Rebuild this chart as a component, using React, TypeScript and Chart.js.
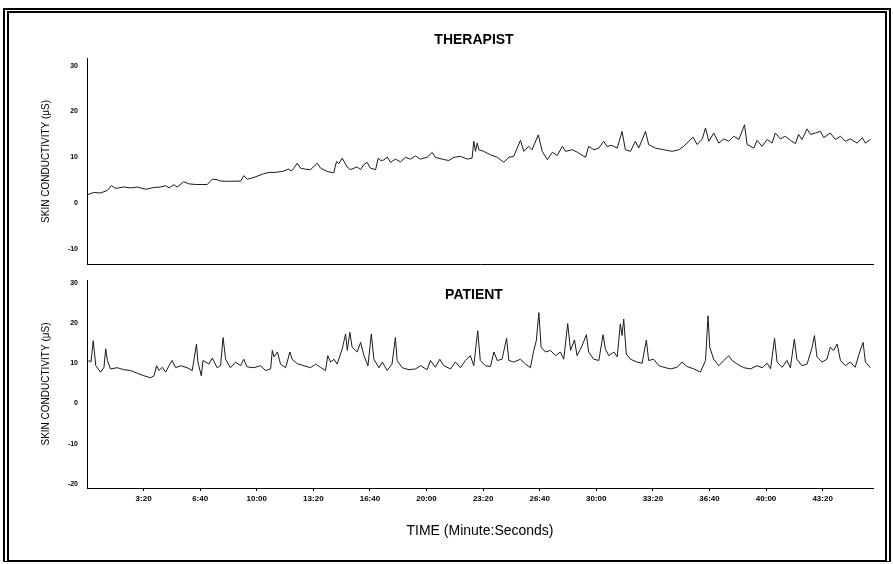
import React, { useEffect, useRef } from "react";
import { Chart, registerables } from "chart.js";

Chart.register(...registerables);

// ---------- DATA ----------
const xTickSeconds = [200, 400, 600, 800, 1000, 1200, 1400, 1600, 1800, 2000, 2200, 2400, 2600];
const therapistYTicks = [-10, 0, 10, 20, 30];
const patientYTicks = [-20, -10, 0, 10, 20, 30];

const therapistTimes = [
  0, 24, 48, 72, 86, 101, 130, 154, 178, 207, 236, 260, 278, 290, 307, 319, 342, 360, 384, 425,
  443, 460, 472, 496, 543, 554, 566, 590, 620, 643, 666, 690, 713, 722, 731, 743, 755, 772, 790, 814,
  826, 849, 872, 882, 890, 902, 919, 931, 955, 967, 978, 990, 1002, 1020, 1029, 1038, 1049, 1061, 1073, 1090,
  1108, 1126, 1143, 1161, 1178, 1202, 1220, 1231, 1261, 1279, 1297, 1320, 1344, 1361, 1367, 1373, 1379, 1385, 1402, 1426,
  1450, 1473, 1491, 1508, 1532, 1544, 1561, 1573, 1595, 1609, 1627, 1645, 1662, 1680, 1691, 1715, 1733, 1762, 1773, 1791,
  1809, 1826, 1838, 1856, 1874, 1891, 1903, 1921, 1938, 1950, 1974, 1985, 2009, 2038, 2068, 2092, 2109, 2127, 2142, 2156,
  2174, 2186, 2198, 2215, 2233, 2251, 2268, 2286, 2304, 2324, 2333, 2357, 2368, 2386, 2404, 2421, 2433, 2451, 2468, 2486,
  2504, 2515, 2527, 2545, 2557, 2575, 2592, 2604, 2627, 2645, 2663, 2680, 2698, 2722, 2740, 2751, 2769,
];
const therapistValues = [
  1.8, 2.3, 2.2, 2.75, 3.8, 3.2, 3.5, 3.3, 3.5, 3.0, 3.4, 3.5, 3.8, 3.3, 4.0, 3.5, 4.65, 4.2, 4.05, 4.05,
  5.2, 5.1, 4.8, 4.75, 4.8, 6.0, 5.2, 5.6, 6.3, 6.7, 6.7, 6.9, 7.4, 7.0, 7.6, 8.7, 7.6, 7.4, 7.3, 8.7,
  7.6, 6.9, 6.6, 9.1, 8.6, 9.8, 7.9, 7.3, 7.9, 7.3, 8.4, 8.9, 7.6, 7.3, 9.8, 9.3, 9.4, 10.05, 8.9, 9.6,
  9.0, 10.0, 9.6, 10.3, 9.6, 10.0, 11.05, 10.0, 9.5, 9.3, 10.0, 10.2, 9.6, 9.8, 13.5, 11.3, 13.1, 11.65, 11.3, 10.55,
  10.0, 8.9, 10.0, 10.2, 13.7, 11.3, 12.4, 11.65, 14.9, 11.3, 9.5, 11.1, 10.4, 12.4, 11.3, 11.65, 11.1, 10.0, 12.4, 11.65,
  12.0, 13.5, 12.4, 12.6, 12.0, 15.65, 11.65, 11.3, 13.5, 12.0, 15.65, 12.8, 12.0, 11.65, 11.3, 11.65, 12.4, 13.5, 14.4, 12.8,
  13.9, 16.4, 13.5, 15.3, 13.1, 14.0, 13.5, 14.6, 13.9, 17.1, 12.8, 12.0, 13.7, 12.4, 13.9, 13.1, 15.3, 14.0, 14.6, 13.7,
  13.0, 15.0, 13.9, 16.2, 15.0, 15.3, 15.65, 14.3, 15.3, 13.9, 14.6, 13.5, 14.0, 13.1, 14.3, 13.1, 13.9,
];

const patientTimes = [
  0, 7, 14, 22, 31, 48, 60, 66, 72, 83, 107, 130, 154, 178, 201, 225, 237, 246, 254, 266,
  278, 293, 301, 313, 331, 354, 372, 387, 392, 404, 410, 431, 443, 460, 472, 481, 490, 507, 525, 543,
  554, 566, 590, 613, 631, 649, 655, 661, 673, 684, 702, 717, 725, 743, 767, 790, 808, 825, 843, 851,
  861, 873, 884, 902, 914, 920, 929, 937, 955, 967, 979, 993, 1005, 1014, 1032, 1044, 1061, 1078, 1090, 1096,
  1114, 1138, 1161, 1179, 1202, 1214, 1231, 1247, 1261, 1285, 1302, 1320, 1337, 1355, 1367, 1381, 1390, 1408, 1426, 1438,
  1450, 1467, 1483, 1491, 1508, 1532, 1550, 1567, 1579, 1588, 1597, 1605, 1620, 1638, 1656, 1673, 1685, 1699, 1709, 1723,
  1732, 1750, 1765, 1773, 1791, 1809, 1824, 1832, 1844, 1862, 1874, 1885, 1891, 1897, 1906, 1921, 1944, 1962, 1977, 1985,
  2003, 2021, 2039, 2062, 2086, 2103, 2121, 2145, 2168, 2186, 2195, 2201, 2215, 2233, 2251, 2268, 2280, 2298, 2321, 2345,
  2368, 2386, 2404, 2416, 2430, 2439, 2457, 2474, 2486, 2500, 2509, 2527, 2545, 2563, 2571, 2580, 2598, 2615, 2627, 2639,
  2651, 2663, 2680, 2698, 2715, 2731, 2743, 2751, 2769,
];
const patientValues = [
  10.2, 10.7, 10.3, 15.6, 9.4, 7.8, 9.0, 13.6, 10.7, 8.6, 8.9, 8.4, 8.2, 7.5, 6.9, 6.4, 6.9, 9.4, 8.2, 9.0,
  7.8, 9.8, 10.7, 8.9, 9.4, 8.9, 8.2, 14.8, 10.3, 6.9, 10.7, 9.8, 11.3, 8.9, 9.4, 16.4, 11.0, 8.9, 10.3, 9.4,
  11.0, 9.1, 8.9, 9.4, 8.2, 8.6, 13.2, 11.6, 12.8, 9.8, 8.9, 12.8, 11.0, 9.9, 9.4, 8.9, 9.8, 9.0, 8.2, 11.9,
  10.3, 11.0, 9.8, 13.6, 17.3, 13.2, 17.7, 14.0, 12.8, 15.2, 11.9, 9.4, 17.3, 11.0, 8.9, 10.3, 8.2, 9.8, 16.4, 10.7,
  8.9, 8.4, 8.6, 9.4, 8.4, 10.7, 9.0, 11.0, 9.4, 8.6, 10.3, 8.9, 10.7, 11.9, 9.4, 18.1, 10.7, 9.4, 9.2, 12.8,
  10.7, 11.0, 16.2, 10.7, 10.3, 11.0, 9.8, 8.9, 13.2, 15.6, 22.6, 14.0, 12.8, 13.2, 11.9, 12.8, 11.0, 19.9, 13.2, 15.8,
  11.9, 14.4, 17.1, 12.8, 11.0, 10.7, 17.1, 13.6, 11.9, 12.8, 11.6, 19.8, 16.9, 21.0, 12.3, 11.0, 10.3, 10.0, 15.8, 10.7,
  11.0, 9.4, 9.0, 8.6, 9.0, 10.3, 9.2, 8.6, 7.8, 10.7, 21.8, 14.0, 11.0, 9.4, 10.7, 11.9, 10.7, 9.8, 8.9, 8.6,
  9.4, 8.9, 10.0, 8.6, 16.2, 10.3, 9.0, 10.7, 8.9, 16.0, 11.0, 9.4, 9.8, 14.0, 16.9, 11.6, 10.3, 11.0, 14.0, 13.2,
  14.8, 10.7, 9.4, 10.3, 9.0, 12.8, 15.2, 10.3, 8.9,
];

const X_MAX = 2778;
const FONT = '"Liberation Sans", Arial, sans-serif';
const Y_TITLE = "SKIN CONDUCTIVITY (\u03bcS)";

function fmtTime(s: number): string {
  const m = Math.floor(s / 60);
  const sec = Math.round(s % 60);
  return `${m}:${String(sec).padStart(2, "0")}`;
}

function panelTitlePlugin(text: string, yFn: (area: any) => number) {
  return {
    id: "panelTitle",
    afterDraw(chart: any) {
      const { ctx, chartArea } = chart;
      ctx.save();
      ctx.font = `bold 14px ${FONT}`;
      ctx.fillStyle = "#000";
      ctx.textAlign = "center";
      ctx.textBaseline = "middle";
      ctx.fillText(text, (chartArea.left + chartArea.right) / 2 - 6, yFn(chartArea));
      ctx.restore();
    },
  };
}

function makeChart(
  canvas: HTMLCanvasElement,
  times: number[],
  values: number[],
  yTicks: number[],
  yMin: number,
  yMax: number,
  showX: boolean,
  title: string,
  titleY: (a: any) => number,
  padding: any,
  xHeight: number
) {
  return new Chart(canvas, {
    type: "line",
    data: {
      datasets: [
        {
          data: times.map((t, i) => ({ x: t, y: values[i] })),
          borderColor: "#1a1a1a",
          borderWidth: 1,
          pointRadius: 0,
          tension: 0,
          fill: false,
        },
      ],
    },
    options: {
      animation: false,
      responsive: false,
      devicePixelRatio: 1,
      layout: { padding },
      plugins: { legend: { display: false }, tooltip: { enabled: false }, title: { display: false } },
      scales: {
        x: {
          type: "linear",
          min: 0,
          max: X_MAX,
          afterBuildTicks: (s: any) => {
            s.ticks = xTickSeconds.map((v) => ({ value: v }));
          },
          afterFit: (s: any) => {
            s.height = xHeight;
          },
          ticks: {
            display: showX,
            autoSkip: false,
            maxRotation: 0,
            padding: 3,
            color: "#000",
            font: { family: FONT, size: 8, weight: "bold" },
            callback: (v: any) => fmtTime(Number(v)),
          },
          grid: {
            display: showX,
            drawOnChartArea: false,
            drawTicks: true,
            tickLength: 3,
            color: "#000",
          },
          border: { display: true, color: "#000", width: 1 },
          title: {
            display: showX,
            text: "TIME (Minute:Seconds)",
            color: "#000",
            font: { family: FONT, size: 14 },
            padding: 0,
          },
        },
        y: {
          type: "linear",
          min: yMin,
          max: yMax,
          afterBuildTicks: (s: any) => {
            s.ticks = yTicks.map((v) => ({ value: v }));
          },
          afterFit: (s: any) => {
            s.width = 47;
          },
          ticks: {
            padding: 1,
            color: "#000",
            font: { family: FONT, size: 7, weight: "bold" },
          },
          grid: { display: false },
          border: { display: true, color: "#000", width: 1 },
          title: {
            display: true,
            text: Y_TITLE,
            color: "#000",
            font: { family: FONT, size: 10 },
            padding: 0,
          },
        },
      },
    },
    plugins: [panelTitlePlugin(title, titleY)],
  } as any);
}

export default function App() {
  const topRef = useRef<HTMLCanvasElement>(null);
  const botRef = useRef<HTMLCanvasElement>(null);

  useEffect(() => {
    const top = makeChart(
      topRef.current!,
      therapistTimes,
      therapistValues,
      therapistYTicks,
      -13.5,
      31.7,
      false,
      "THERAPIST",
      (a) => a.top - 18,
      { left: 40, right: 20, top: 58, bottom: 5 },
      0
    );
    const bot = makeChart(
      botRef.current!,
      patientTimes,
      patientValues,
      patientYTicks,
      -21,
      30.7,
      true,
      "PATIENT",
      (a) => a.top + 15,
      { left: 40, right: 20, top: 10, bottom: 24.6 },
      51.4
    );
    return () => {
      top.destroy();
      bot.destroy();
    };
  }, []);

  return (
    <div style={{ position: "fixed", left: 0, top: 0, width: 893, height: 564, background: "#fff" }}>
      <canvas
        ref={topRef}
        width={893}
        height={270}
        style={{ position: "absolute", left: 0, top: 0, width: 893, height: 270 }}
      />
      <canvas
        ref={botRef}
        width={893}
        height={294}
        style={{ position: "absolute", left: 0, top: 270, width: 893, height: 294 }}
      />
      <div
        style={{
          position: "absolute",
          left: 3,
          top: 8,
          width: 888,
          height: 554,
          boxSizing: "border-box",
          borderLeft: "6px double #000",
          borderTop: "5px double #000",
          borderRight: "6px double #000",
          borderBottom: "2px solid #000",
          pointerEvents: "none",
        }}
      />
    </div>
  );
}
